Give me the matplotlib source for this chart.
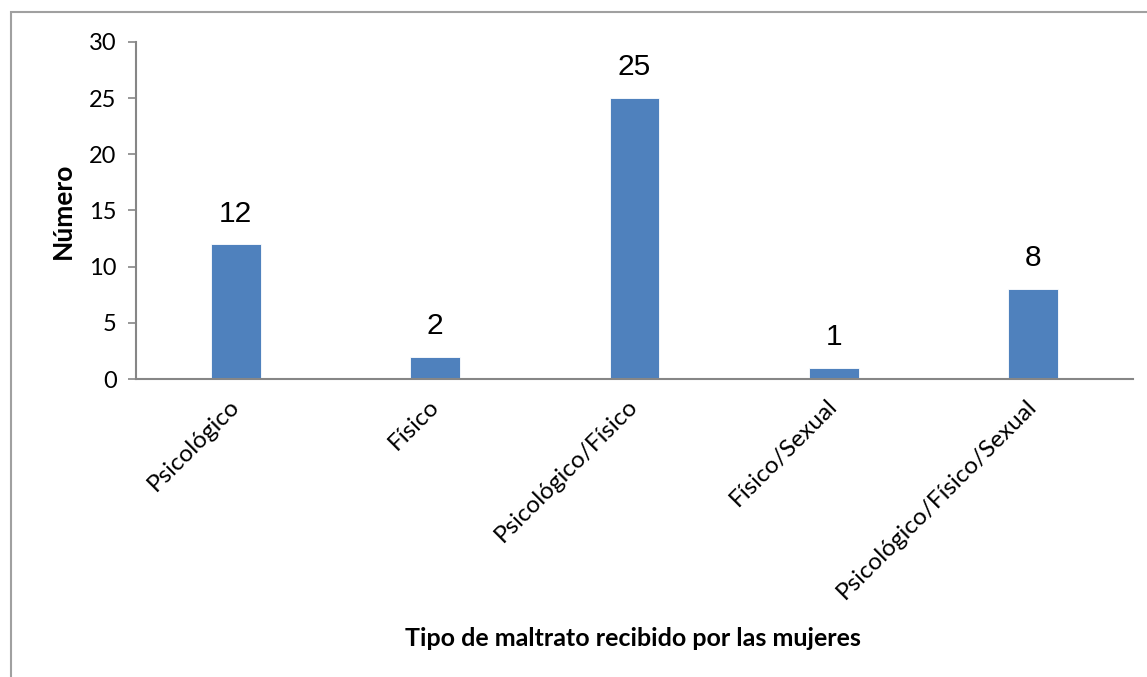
import matplotlib
matplotlib.use("Agg")
from matplotlib import pyplot as plt
from matplotlib.patches import Rectangle

# datos del grafico
categorias = ["Psicológico", "Físico", "Psicológico/Físico", "Físico/Sexual", "Psicológico/Físico/Sexual"]
valores = [12, 2, 25, 1, 8]
yticks = [0, 5, 10, 15, 20, 25, 30]

plt.rcParams['font.family'] = ['Lato', 'DejaVu Sans']

fig = plt.figure(figsize=(11.47, 6.77), dpi=100)
ax = fig.add_axes([136/1147, 1 - 379/677, (1133 - 136)/1147, (379 - 42)/677])

x = list(range(len(categorias)))
ax.bar(x, valores, width=0.25, color="#4f81bd", edgecolor="white", linewidth=0.6)

for xi, v in zip(x, valores):
    ax.annotate(str(v), (xi, v), xytext=(0, 12), textcoords="offset points",
                ha="center", va="bottom", fontsize=21.5, family="Liberation Sans")

ax.set_xlim(-0.5, len(categorias) - 0.5)
ax.set_ylim(0, 30)
ax.set_yticks(yticks)
ax.set_xticks(x)
ax.set_xticklabels(categorias, rotation=45, ha="right", va="center",
                   rotation_mode="anchor", fontsize=17.5)
ax.tick_params(axis="x", length=0, pad=17)
for lbl in ax.get_xticklabels():
    lbl.set_x(lbl.get_position()[0])
ax.tick_params(axis="y", length=6, width=1.2, color="#868686", labelsize=17, pad=8)

for s in ["top", "right"]:
    ax.spines[s].set_visible(False)
for s in ["left", "bottom"]:
    ax.spines[s].set_color("#868686")
    ax.spines[s].set_linewidth(1.5)

ax.set_ylabel("Número", fontsize=19, fontweight="bold", labelpad=10)
fig.text(633/1147, 1 - 638/677, "Tipo de maltrato recibido por las mujeres",
         ha="center", va="center", fontsize=18, fontweight="bold")

# marco exterior
fig.patches.append(Rectangle((11/1147, -0.05), 1.1, 1 - 12/677 + 0.05,
                             transform=fig.transFigure, fill=False,
                             edgecolor="#a0a0a0", linewidth=1.5))

plt.savefig("out.png", dpi=100)
